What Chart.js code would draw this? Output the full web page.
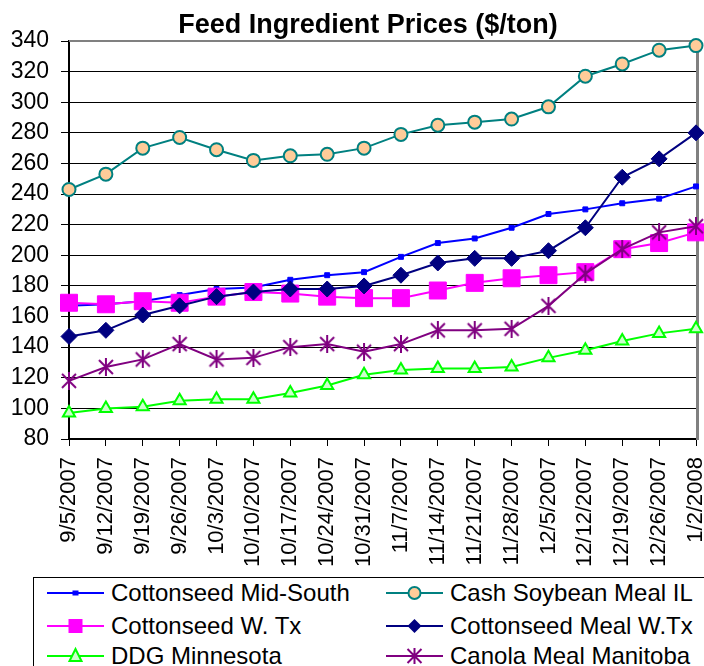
<!DOCTYPE html>
<html>
<head>
<meta charset="utf-8">
<script src="https://cdn.jsdelivr.net/npm/chart.js@4.4.0/dist/chart.umd.min.js"></script>
<style>
  html, body { margin: 0; padding: 0; background: #fff; }
  #wrap { position: relative; width: 704px; height: 666px; overflow: hidden; font-family: Arial, "Liberation Sans", sans-serif; }
  #chart { position: absolute; left: 0; top: 0; }
  #legend { position: absolute; left: 33px; top: 577px; width: 720px; height: 120px; border: 1px solid #000; box-sizing: border-box; }
  .item { position: absolute; display: flex; align-items: center; height: 30px; font-size: 24px; white-space: nowrap; color: #000; }
  .item svg { margin-right: 7px; }
</style>
</head>
<body>
<div id="wrap">
  <canvas id="chart" width="704" height="575"></canvas>
  <div id="legend"></div>
</div>
<script>
  const dates = ['9/5/2007', '9/12/2007', '9/19/2007', '9/26/2007', '10/3/2007', '10/10/2007',
    '10/17/2007', '10/24/2007', '10/31/2007', '11/7/2007', '11/14/2007', '11/21/2007',
    '11/28/2007', '12/5/2007', '12/12/2007', '12/19/2007', '12/26/2007', '1/2/2008'];

  const cottonseedMidSouth = [167, 168, 170, 174, 178, 179, 184, 187, 189, 199, 208, 211, 218, 227, 230, 234, 237, 245];
  const cashSoybeanMealIL = [243, 253, 270, 277, 269, 262, 265, 266, 270, 279, 285, 287, 289, 297, 317, 325, 334, 337];
  const cottonseedWTx = [169, 168, 170, 169, 173, 176, 175, 173, 172, 172, 177, 182, 185, 187, 189, 204, 208, 215];
  const cottonseedMealWTx = [147, 151, 161, 167, 173, 176, 178, 178, 180, 187, 195, 198, 198, 203, 218, 251, 263, 280];
  const ddgMinnesota = [97, 100, 101, 105, 106, 106, 110, 115, 122, 125, 126, 126, 127, 133, 138, 144, 149, 152];
  const canolaMealManitoba = [118, 127, 132, 142, 132, 133, 140, 142, 137, 142, 151, 151, 152, 167, 188, 204, 215, 219];

  const yMin = 80, yMax = 340, yStep = 20;

  // asterisk marker like Excel's (X plus vertical bar)
  function starImage(color, size) {
    const c = document.createElement('canvas');
    c.width = size; c.height = size;
    const g = c.getContext('2d');
    g.strokeStyle = color;
    g.lineWidth = 2;
    g.beginPath();
    g.moveTo(2, 2); g.lineTo(size - 2, size - 2);
    g.moveTo(size - 2, 2); g.lineTo(2, size - 2);
    g.moveTo(size / 2, 0); g.lineTo(size / 2, size);
    g.stroke();
    return c;
  }

  const series = [
    { label: 'Cottonseed Mid-South', data: cottonseedMidSouth, color: '#0000FF', fill: '#0000FF', marker: 'rect', radius: 3.5, bw: 1 },
    { label: 'Cash Soybean Meal IL', data: cashSoybeanMealIL, color: '#008080', fill: '#FFCC99', marker: 'circle', radius: 6.5, bw: 2 },
    { label: 'Cottonseed W. Tx', data: cottonseedWTx, color: '#FF00FF', fill: '#FF00FF', marker: 'rect', radius: 12, bw: 1 },
    { label: 'Cottonseed Meal W.Tx', data: cottonseedMealWTx, color: '#000080', fill: '#000080', marker: 'rectRot', radius: 8, bw: 1 },
    { label: 'DDG Minnesota', data: ddgMinnesota, color: '#00FF00', fill: '#CCFFCC', marker: 'triangle', radius: 7, bw: 2 },
    { label: 'Canola Meal Manitoba', data: canolaMealManitoba, color: '#800080', fill: '#800080', marker: 'star', radius: 9, bw: 2 }
  ];

  const datasets = series.map((s, i) => ({
    label: s.label,
    data: s.data,
    borderColor: s.color,
    borderWidth: 2,
    backgroundColor: s.fill,
    pointStyle: s.marker === 'star' ? starImage(s.color, 18) : s.marker,
    pointRadius: s.radius,
    pointBorderWidth: s.bw,
    pointBorderColor: s.color,
    pointBackgroundColor: s.fill,
    tension: 0,
    clip: false,
    order: series.length - i
  }));

  const extras = {
    id: 'extras',
    beforeDatasetsDraw(chart) {
      const { ctx, chartArea: a } = chart;
      ctx.save();
      ctx.strokeStyle = '#808080';
      ctx.lineWidth = 2;
      ctx.beginPath();
      ctx.moveTo(a.left, a.top);
      ctx.lineTo(a.right, a.top);
      ctx.stroke();
      ctx.lineWidth = 3;
      ctx.beginPath();
      ctx.moveTo(a.right + 1.5, a.top - 1);
      ctx.lineTo(a.right + 1.5, a.bottom + 1);
      ctx.stroke();
      ctx.restore();
    },
    afterDraw(chart) {
      const ctx = chart.ctx;
      ctx.save();
      ctx.fillStyle = '#000';
      ctx.font = 'bold 27px Arial';
      ctx.textAlign = 'center';
      ctx.textBaseline = 'alphabetic';
      ctx.fillText('Feed Ingredient Prices ($/ton)', 368, 33);
      ctx.restore();
    }
  };

  new Chart(document.getElementById('chart'), {
    type: 'line',
    data: { labels: dates, datasets },
    options: {
      responsive: false,
      animation: false,
      layout: { autoPadding: false, padding: { top: 41, right: 8, left: 0, bottom: 0 } },
      plugins: { legend: { display: false }, title: { display: false }, tooltip: { enabled: false } },
      scales: {
        x: {
          grid: { drawOnChartArea: false, drawTicks: true, tickLength: 7, color: '#000', lineWidth: 1 },
          border: { color: '#000', width: 2 },
          ticks: { autoSkip: false, maxRotation: 90, minRotation: 90, padding: 11, color: '#000', font: { family: 'Arial', size: 22 } },
          afterFit(s) { s.height = 575 - 439; s.paddingLeft = 0; s.paddingRight = 0; }
        },
        y: {
          min: yMin, max: yMax,
          grid: { color: '#000', lineWidth: 1, tickLength: 8 },
          border: { color: '#000', width: 2 },
          ticks: { stepSize: yStep, padding: 12, color: '#000', font: { family: 'Arial', size: 23 } },
          afterFit(s) { s.width = 69; }
        }
      }
    },
    plugins: [extras]
  });

  // legend box, two columns, row-wise like Excel
  function iconSvg(s) {
    const cx = 28.5, cy = 15;
    let m = '';
    if (s.marker === 'rect' && s.radius < 5) {
      m = `<rect x="${cx - 3}" y="${cy - 2.5}" width="6" height="5" fill="${s.fill}"/>`;
    } else if (s.marker === 'rect') {
      m = `<rect x="${cx - 7}" y="${cy - 7}" width="14" height="14" fill="${s.fill}"/>`;
    } else if (s.marker === 'circle') {
      m = `<circle cx="${cx}" cy="${cy}" r="6" fill="${s.fill}" stroke="${s.color}" stroke-width="2"/>`;
    } else if (s.marker === 'rectRot') {
      m = `<polygon points="${cx},${cy - 7} ${cx + 7},${cy} ${cx},${cy + 7} ${cx - 7},${cy}" fill="${s.fill}"/>`;
    } else if (s.marker === 'triangle') {
      m = `<polygon points="${cx},${cy - 7} ${cx + 6},${cy + 5} ${cx - 6},${cy + 5}" fill="${s.fill}" stroke="${s.color}" stroke-width="2"/>`;
    } else if (s.marker === 'star') {
      m = `<path d="M${cx - 7} ${cy - 7}L${cx + 7} ${cy + 7}M${cx + 7} ${cy - 7}L${cx - 7} ${cy + 7}M${cx} ${cy - 8}L${cx} ${cy + 8}" stroke="${s.color}" stroke-width="2"/>`;
    }
    return `<svg width="57" height="30"><line x1="0" y1="15" x2="57" y2="15" stroke="${s.color}" stroke-width="2"/>${m}</svg>`;
  }

  const legend = document.getElementById('legend');
  const colX = [13, 352];
  const rowY = [0, 33, 63];
  series.forEach((s, i) => {
    const div = document.createElement('div');
    div.className = 'item';
    div.style.left = colX[i % 2] + 'px';
    div.style.top = rowY[Math.floor(i / 2)] + 'px';
    div.innerHTML = iconSvg(s) + '<span>' + s.label + '</span>';
    legend.appendChild(div);
  });
</script>
</body>
</html>
